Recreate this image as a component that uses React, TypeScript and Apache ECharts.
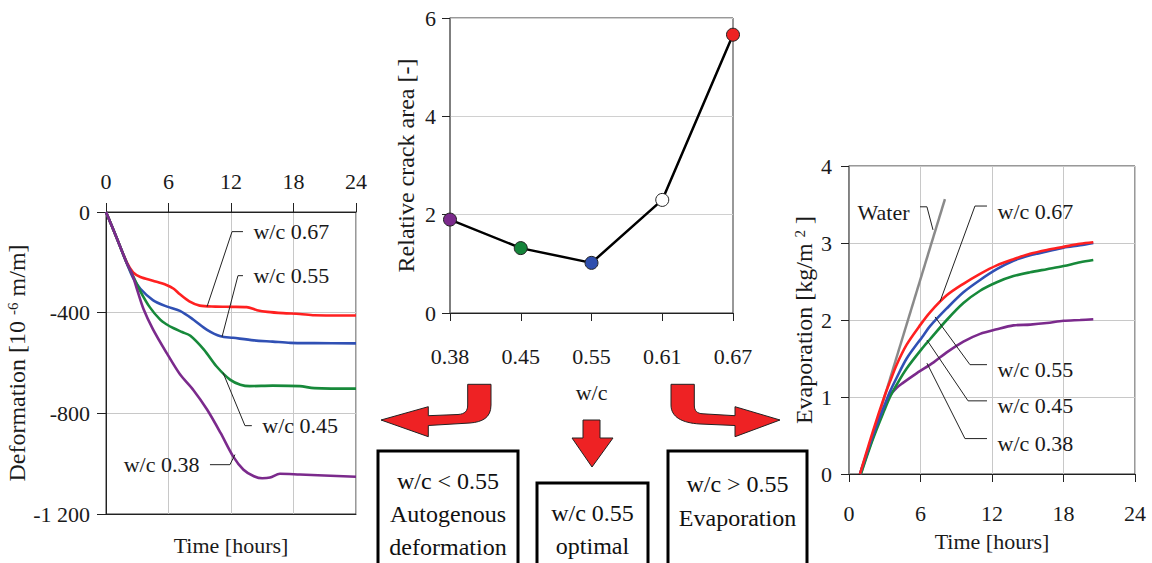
import React, { useEffect, useRef } from "react";
import * as echarts from "echarts";

// ---------- Left chart: autogenous deformation ----------
const defTicks = [0, -400, -800, -1200];
const def067 = [[0,0],[1,-100],[2,-200],[2.6,-240],[3.3,-258],[4.5,-273],[5.8,-290],[6.5,-305],[7.1,-327],[8,-355],[9,-372],[10.5,-376],[12,-377],[13.5,-378],[14.5,-390],[15.5,-397],[17,-402],[18.6,-405],[20,-410],[24,-411]];
const def055 = [[0,0],[1,-100],[2,-204],[2.6,-262],[3.3,-305],[4.5,-350],[5.8,-375],[7.1,-393],[8.4,-428],[9.7,-468],[11,-494],[12.2,-500],[14.2,-510],[16,-515],[17.7,-520],[20,-521],[24,-522]];
const def045 = [[0,0],[1,-100],[2,-204],[2.6,-255],[3.3,-315],[4.2,-378],[5.2,-428],[5.8,-446],[6.5,-462],[7.3,-477],[8.1,-492],[9.4,-547],[10.6,-613],[11.9,-666],[12.9,-686],[13.8,-692],[16,-690],[18.6,-692],[20,-700],[24,-702]];
const def038 = [[0,0],[1,-100],[2,-204],[2.5,-245],[3,-310],[3.6,-385],[4.5,-465],[5.85,-562],[7.1,-645],[8.4,-708],[9.7,-785],[11,-878],[12.2,-971],[13.2,-1024],[14.2,-1050],[15,-1058],[15.75,-1055],[16.7,-1040],[18.6,-1043],[24,-1052]];
const defLabels = ["w/c 0.67", "w/c 0.55", "w/c 0.45", "w/c 0.38"];
const defLeaders = [
  [[9.7,-376],[12.1,-78],[13.15,-78]],
  [[11.14,-496],[12.67,-253],[13.15,-253]],
  [[11.23,-638],[13.34,-849],[14.0,-849]],
  [[12.38,-964],[11.9,-1004],[9.98,-1004]],
];

// ---------- Middle chart: relative crack area ----------
const wcCategories = ["0.38", "0.45", "0.55", "0.61", "0.67"];
const crackArea = [1.9, 1.32, 1.02, 2.3, 5.66];
const crackColors = ["#7b2a8c", "#15843a", "#2f4fae", "#ffffff", "#ee2222"];

// ---------- Right chart: evaporation ----------
const evapWater = [[1,0],[8.05,3.57]];
const evap067 = [[0.92,0],[2,0.55],[3,1.02],[3.44,1.2],[4,1.42],[4.84,1.68],[6,1.94],[6.8,2.1],[8.2,2.32],[9.6,2.47],[11,2.6],[12.4,2.71],[13.8,2.79],[15.2,2.86],[16.6,2.91],[18,2.95],[19.4,2.99],[20.5,3.01]];
const evap055 = [[0.92,0],[2,0.5],[3,0.9],[3.44,1.07],[4,1.25],[4.84,1.5],[6.24,1.8],[6.8,1.92],[8.2,2.15],[9.6,2.36],[11,2.52],[12.4,2.66],[13.8,2.77],[15.2,2.84],[16.6,2.89],[18,2.94],[19.4,2.97],[20.5,3.0]];
const evap045 = [[1,0],[2,0.45],[3,0.84],[3.44,1.0],[4,1.16],[4.84,1.37],[6.24,1.65],[6.8,1.75],[8.2,2.0],[9.6,2.22],[11,2.38],[12.4,2.49],[13.8,2.57],[15.2,2.62],[16.6,2.66],[18,2.7],[19.4,2.75],[20.5,2.78]];
const evap038 = [[0.92,0],[2,0.47],[3,0.88],[3.44,1.02],[4,1.12],[4.5,1.18],[5.7,1.31],[7.1,1.45],[8.2,1.58],[9.6,1.72],[11,1.82],[12.4,1.88],[13.8,1.93],[15.2,1.94],[16.6,1.96],[18,1.99],[19.4,2.0],[20.5,2.01]];
const evapLabels = ["Water", "w/c 0.67", "w/c 0.55", "w/c 0.45", "w/c 0.38"];
const evapLeaders = [
  [[7.05,3.17],[6.54,3.47],[5.96,3.47]],
  [[7.64,2.24],[10.57,3.48],[11.58,3.48]],
  [[7.22,2.04],[10.15,1.42],[11.58,1.42]],
  [[6.54,1.74],[9.99,0.95],[11.58,0.95]],
  [[6.54,1.44],[9.73,0.46],[11.58,0.46]],
];

const timeTicks = [0, 6, 12, 18, 24];

const SERIF = "Liberation Serif";
const RED = "#ff2020";
const BLUE = "#3050b4";
const GREEN = "#17893a";
const PURPLE = "#7b2a8c";

const arrowLeftD =
  "M467.7 384.3 L491 384.3 L491 405 C491 418 482 422 470 423 L428.3 425.5 L428.3 436.7 L381 420 L428.3 406.7 L428.3 415.7 L458 414.5 C465 414 467.7 411 467.7 405 Z";
const arrowRightD =
  "M671 384.3 L694.3 384.3 L694.3 405 C694.3 411 697 413.5 703 413.8 L735 415.7 L735 406.7 L780 420 L735 436.7 L735 425.5 L700 424 C682 423 671 417 671 405 Z";
const arrowDownD = "M583 420 L600 420 L600 438 L613 438 L592 467 L572 438 L583 438 Z";

let registered = false;
function registerShapes() {
  if (registered) return;
  registered = true;
  echarts.graphic.registerShape("arrowL", echarts.graphic.extendPath(arrowLeftD, {}));
  echarts.graphic.registerShape("arrowR", echarts.graphic.extendPath(arrowRightD, {}));
  echarts.graphic.registerShape("arrowD", echarts.graphic.extendPath(arrowDownD, {}));
}

const txt = { fontFamily: SERIF, fontSize: 22, color: "#1a1a1a" };
const nameTxt = { fontFamily: SERIF, fontSize: 24, color: "#1a1a1a" };
const supStyle = { fontFamily: SERIF, fontSize: 15, color: "#1a1a1a", verticalAlign: "top", lineHeight: 15 };

function dataLine(data: number[][], color: string, xi: number, yi: number) {
  return {
    type: "line",
    xAxisIndex: xi,
    yAxisIndex: yi,
    data,
    showSymbol: false,
    symbol: "none",
    smooth: 0.3,
    lineStyle: { color, width: 2.6 },
    z: 3,
  };
}

function leader(data: number[][], label: string, xi: number, yi: number, pos: string, offset: number[] = [0, 0]) {
  const n = data.length;
  return {
    type: "line",
    xAxisIndex: xi,
    yAxisIndex: yi,
    data: data.map((p, i) =>
      i === n - 1
        ? {
            value: p,
            symbol: "circle",
            symbolSize: 1,
            itemStyle: { color: "rgba(0,0,0,0)", borderWidth: 0 },
            label: { show: true, position: pos, distance: 10, offset, formatter: label, ...txt },
          }
        : { value: p, symbol: "none" }
    ),
    symbol: "none",
    showSymbol: true,
    lineStyle: { color: "#222", width: 1 },
    z: 4,
  };
}

export default function App() {
  const ref = useRef<HTMLDivElement>(null);
  useEffect(() => {
    if (!ref.current) return;
    registerShapes();
    const chart = echarts.init(ref.current, undefined, { renderer: "svg" });
    const axisLineBlack = { show: true, lineStyle: { color: "#222", width: 1 } };
    const gridLine = { show: true, lineStyle: { color: "#c8c8c8", width: 1 } };
    const option: any = {
      animation: false,
      backgroundColor: "#ffffff",
      textStyle: { fontFamily: SERIF },
      grid: [
        { left: 106, top: 212, width: 250, height: 302, show: true, borderColor: "#333", borderWidth: 1 },
        { left: 450, top: 18, width: 283, height: 295, show: true, borderColor: "#333", borderWidth: 1 },
        { left: 849, top: 166, width: 286, height: 308, show: true, borderColor: "#333", borderWidth: 1 },
      ],
      xAxis: [
        {
          gridIndex: 0, type: "value", position: "top", min: timeTicks[0], max: timeTicks[timeTicks.length - 1], interval: 6,
          axisLine: axisLineBlack, axisTick: { show: true, inside: false, length: 9, lineStyle: { color: "#222" } },
          axisLabel: { ...txt, margin: 20 }, splitLine: gridLine,
        },
        {
          gridIndex: 0, type: "value", position: "bottom", min: 0, max: 24,
          axisLine: axisLineBlack, axisTick: { show: false }, axisLabel: { show: false }, splitLine: { show: false },
          name: "Time [hours]", nameLocation: "middle", nameGap: 20, nameTextStyle: { ...txt },
        },
        {
          gridIndex: 1, type: "category", data: wcCategories, boundaryGap: false,
          axisLine: axisLineBlack, axisTick: { show: true, length: 8, lineStyle: { color: "#222" } },
          axisLabel: { ...txt, margin: 32 }, splitLine: { show: false },
          name: "w/c", nameLocation: "middle", nameGap: 68, nameTextStyle: { ...txt },
        },
        {
          gridIndex: 2, type: "value", min: 0, max: 24, interval: 6,
          axisLine: axisLineBlack, axisTick: { show: true, length: 8, lineStyle: { color: "#222" } },
          axisLabel: { ...txt, margin: 28 }, splitLine: gridLine,
          name: "Time [hours]", nameLocation: "middle", nameGap: 56, nameTextStyle: { ...txt },
        },
      ],
      yAxis: [
        {
          gridIndex: 0, type: "value", min: defTicks[defTicks.length - 1], max: defTicks[0], interval: 400,
          axisLine: axisLineBlack, axisTick: { show: true, length: 9, lineStyle: { color: "#222" } },
          axisLabel: { ...txt, margin: 16, formatter: (v: number) => (v === -1200 ? "-1 200" : String(v)) },
          splitLine: gridLine,
          name: "Deformation [10 {sup|-6} m/m]", nameLocation: "middle", nameGap: 66,
          nameTextStyle: { ...nameTxt, rich: { sup: supStyle } },
        },
        {
          gridIndex: 1, type: "value", min: 0, max: 6, interval: 2,
          axisLine: { show: true, lineStyle: { color: "#777", width: 1.5 } },
          axisTick: { show: true, length: 8, lineStyle: { color: "#222" } },
          axisLabel: { ...txt, margin: 14 }, splitLine: { show: true, lineStyle: { color: "#d0d0d0" } },
          name: "Relative crack area [-]", nameLocation: "middle", nameGap: 32, nameTextStyle: { ...nameTxt },
        },
        {
          gridIndex: 2, type: "value", min: 0, max: 4, interval: 1,
          axisLine: { show: true, lineStyle: { color: "#777", width: 1.5 } },
          axisTick: { show: true, length: 8, lineStyle: { color: "#222" } },
          axisLabel: { ...txt, margin: 17 }, splitLine: gridLine,
          name: "Evaporation [kg/m {sup|2} ]", nameLocation: "middle", nameGap: 33,
          nameTextStyle: { ...nameTxt, rich: { sup: supStyle } },
        },
      ],
      series: [
        dataLine(def067, RED, 0, 0),
        dataLine(def055, BLUE, 0, 0),
        dataLine(def045, GREEN, 0, 0),
        dataLine(def038, PURPLE, 0, 0),
        ...defLeaders.map((d, i) => leader(d, defLabels[i], 0, 0, i === 3 ? "left" : "right")),
        {
          type: "line",
          xAxisIndex: 2,
          yAxisIndex: 1,
          data: crackArea.map((v, i) => ({ value: v, itemStyle: { color: crackColors[i] } })),
          symbol: "circle",
          symbolSize: 13,
          showSymbol: true,
          lineStyle: { color: "#000", width: 2.5 },
          itemStyle: { borderColor: "#222", borderWidth: 1 },
          z: 5,
        },
        { ...dataLine(evapWater, "#8a8a8a", 3, 2), smooth: false, lineStyle: { color: "#8a8a8a", width: 2.5 } },
        dataLine(evap038, PURPLE, 3, 2),
        dataLine(evap045, GREEN, 3, 2),
        dataLine(evap055, BLUE, 3, 2),
        dataLine(evap067, RED, 3, 2),
        ...evapLeaders.map((d, i) => leader(d, evapLabels[i], 3, 2, i === 0 ? "left" : "right", i === 0 ? [0, 6] : [0, 5])),
      ],
      graphic: [
        { type: "arrowL", x: 0, y: 0, z: 10, style: { fill: "#ee2224", stroke: "#222", lineWidth: 1 } },
        { type: "arrowR", x: 0, y: 0, z: 10, style: { fill: "#ee2224", stroke: "#222", lineWidth: 1 } },
        { type: "arrowD", x: 0, y: 0, z: 10, style: { fill: "#ee2224", stroke: "#222", lineWidth: 1 } },
        { type: "rect", z: 10, shape: { x: 378, y: 451, width: 140, height: 120 }, style: { fill: "#fff", stroke: "#000", lineWidth: 3 } },
        { type: "rect", z: 10, shape: { x: 537, y: 483, width: 111, height: 90 }, style: { fill: "#fff", stroke: "#000", lineWidth: 3 } },
        { type: "rect", z: 10, shape: { x: 668, y: 451, width: 139, height: 120 }, style: { fill: "#fff", stroke: "#000", lineWidth: 3 } },
        {
          type: "text", z: 11, x: 448, y: 464,
          style: { text: "w/c < 0.55\nAutogenous\ndeformation", fontFamily: SERIF, fontSize: 24, lineHeight: 33, fill: "#111", align: "center", verticalAlign: "top" },
        },
        {
          type: "text", z: 11, x: 592.5, y: 496,
          style: { text: "w/c 0.55\noptimal", fontFamily: SERIF, fontSize: 24, lineHeight: 33, fill: "#111", align: "center", verticalAlign: "top" },
        },
        {
          type: "text", z: 11, x: 737.5, y: 467,
          style: { text: "w/c > 0.55\nEvaporation", fontFamily: SERIF, fontSize: 24, lineHeight: 34, fill: "#111", align: "center", verticalAlign: "top" },
        },
      ],
    };
    chart.setOption(option);
    return () => chart.dispose();
  }, []);
  return (
    <div
      ref={ref}
      style={{ position: "fixed", left: 0, top: 0, width: 1152, height: 563, background: "#fff" }}
    />
  );
}
